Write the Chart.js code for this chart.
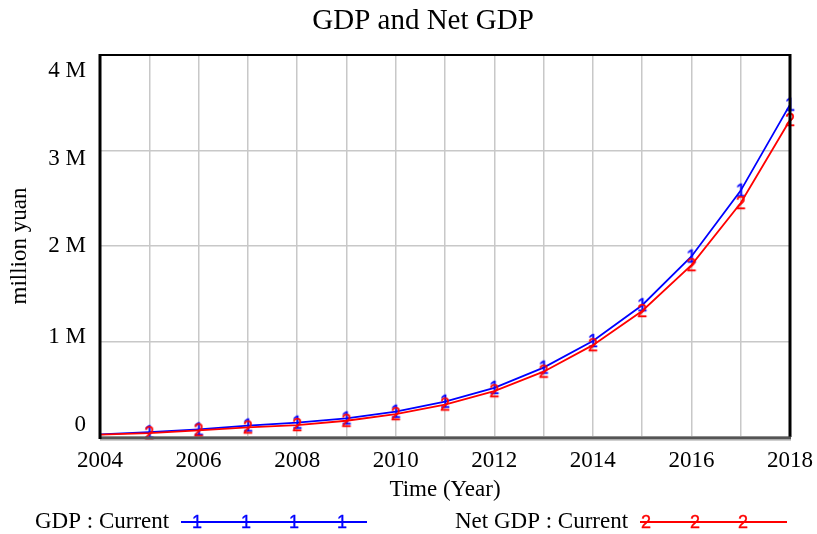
<!DOCTYPE html>
<html>
<head>
<meta charset="utf-8">
<script src="https://cdn.jsdelivr.net/npm/chart.js@4/dist/chart.umd.min.js"></script>
<style>
  html, body { margin: 0; padding: 0; background: #fff; }
  #wrap { width: 817px; height: 534px; position: relative; }
</style>
</head>
<body>
<div id="wrap"><canvas id="c" width="817" height="534"></canvas></div>
<script>
// ---- data ----
const years = [2004, 2005, 2006, 2007, 2008, 2009, 2010, 2011, 2012, 2013, 2014, 2015, 2016, 2017, 2018];
const gdpCurrent = [28000, 50000, 80000, 120000, 150000, 195000, 265000, 370000, 515000, 727000, 1005000, 1380000, 1890000, 2580000, 3480000];
const netGdpCurrent = [25000, 40000, 70000, 100000, 125000, 170000, 240000, 340000, 480000, 684000, 962000, 1320000, 1800000, 2450000, 3320000];
const yTickValues = [0, 1000000, 2000000, 3000000, 4000000];
const yTickLabels = ['0', '1 M', '2 M', '3 M', '4 M'];
const titleText = 'GDP and Net GDP';
const xTitle = 'Time (Year)';
const yTitle = 'million yuan';
const legendLabels = ['GDP : Current', 'Net GDP : Current'];
const seriesMarks = ['1', '2'];
const seriesColors = ['#0000ff', '#ff0000'];

const SERIF = '"Liberation Serif", "Times New Roman", serif';

function markerCanvas(ch, color) {
  const c = document.createElement('canvas');
  c.width = 16; c.height = 20;
  const g = c.getContext('2d');
  g.fillStyle = color;
  g.strokeStyle = color;
  g.lineWidth = 0.35;
  g.font = '18px "Liberation Sans", Arial, sans-serif';
  g.textAlign = 'center';
  g.textBaseline = 'middle';
  g.fillText(ch, 8, 11);
  g.strokeText(ch, 8, 11);
  return c;
}
const markers = seriesMarks.map((m, i) => markerCanvas(m, seriesColors[i]));

// vertical nudge of y tick labels (as in the reference): [direction, lineHeight]
const yLabelShift = { 0: ['down', 24], 1000000: ['down', 10], 2000000: ['none', 0], 3000000: ['up', 16], 4000000: ['up', 32] };

const framePlugin = {
  id: 'frame',
  afterDraw(chart) {
    const ctx = chart.ctx;
    const a = chart.chartArea;
    ctx.save();
    ctx.strokeStyle = '#000';
    ctx.lineWidth = 2;
    ctx.beginPath(); ctx.moveTo(a.left, a.top); ctx.lineTo(a.right, a.top); ctx.stroke();
    ctx.lineWidth = 3;
    ctx.beginPath(); ctx.moveTo(a.right, a.top - 1); ctx.lineTo(a.right, a.bottom); ctx.stroke();
    ctx.strokeStyle = '#555';
    ctx.lineWidth = 3;
    ctx.beginPath(); ctx.moveTo(a.left, a.bottom + 1); ctx.lineTo(a.right + 1, a.bottom + 1); ctx.stroke();
    ctx.strokeStyle = '#cfcfcf';
    ctx.lineWidth = 1;
    ctx.beginPath(); ctx.moveTo(a.left, a.bottom + 3.5); ctx.lineTo(a.right + 1, a.bottom + 3.5); ctx.stroke();
    ctx.strokeStyle = '#000';
    ctx.lineWidth = 3;
    ctx.beginPath(); ctx.moveTo(a.left, a.top - 1); ctx.lineTo(a.left, a.bottom + 2); ctx.stroke();

    ctx.fillStyle = '#000';
    ctx.font = '29px ' + SERIF;
    ctx.textAlign = 'center';
    ctx.textBaseline = 'middle';
    ctx.fillText(titleText, 423, 21);

    ctx.font = '23px ' + SERIF;
    ctx.textAlign = 'left';
    ctx.textBaseline = 'middle';
    const ly = 522;
    const items = [
      { x: 35, lineFrom: 181, lineTo: 367, marks: [197, 246, 294, 342] },
      { x: 455, lineFrom: 640, lineTo: 787, marks: [646, 695, 743] }
    ];
    items.forEach((it, i) => {
      ctx.fillStyle = '#000';
      ctx.fillText(legendLabels[i], it.x, ly);
      ctx.strokeStyle = seriesColors[i];
      ctx.lineWidth = 1.8;
      ctx.beginPath(); ctx.moveTo(it.lineFrom, ly); ctx.lineTo(it.lineTo, ly); ctx.stroke();
      it.marks.forEach(mx => {
        ctx.drawImage(markers[i], mx - 8, ly - 10);
      });
    });
    ctx.restore();
  }
};

const ds = (label, data, i) => ({
  label,
  data: years.map((y, k) => ({ x: y, y: data[k] })),
  borderColor: seriesColors[i],
  backgroundColor: seriesColors[i],
  borderWidth: 1.8,
  pointStyle: markers[i],
  pointRadius: ctx => (ctx.dataIndex === 0 ? 0 : 5),
  pointHoverRadius: 5,
  tension: 0,
  clip: false
});

new Chart(document.getElementById('c'), {
  type: 'line',
  data: {
    datasets: [
      ds(legendLabels[1], netGdpCurrent, 1),
      ds(legendLabels[0], gdpCurrent, 0)
    ]
  },
  options: {
    responsive: false,
    animation: false,
    events: [],
    layout: { padding: { top: 55, right: 27, bottom: 30, left: 0 } },
    plugins: {
      legend: { display: false },
      title: { display: false },
      tooltip: { enabled: false }
    },
    scales: {
      x: {
        type: 'linear',
        min: 2004,
        max: 2018,
        afterBuildTicks: s => { s.ticks = years.map(v => ({ value: v })); },
        afterFit: s => { s.height = 67; s.paddingLeft = 0; s.paddingRight = 0; },
        grid: { color: '#c8c8c8', lineWidth: 1.5, drawTicks: false },
        border: { display: false },
        ticks: {
          autoSkip: false,
          maxRotation: 0,
          padding: 10,
          color: '#000',
          font: { family: SERIF, size: 23 },
          callback: v => (v % 2 === 0 ? String(v) : '')
        },
        title: {
          display: true,
          text: xTitle,
          color: '#000',
          font: { family: SERIF, size: 23 },
          padding: { top: 0, bottom: 0 }
        }
      },
      y: {
        min: 0,
        max: 4000000,
        afterBuildTicks: s => { s.ticks = yTickValues.map(v => ({ value: v })); },
        afterFit: s => { s.width = 100; s.paddingTop = 0; s.paddingBottom = 0; },
        grid: { color: '#c8c8c8', lineWidth: 1.5, drawTicks: false },
        border: { display: false },
        ticks: {
          padding: 14,
          color: '#000',
          font: ctx => {
            const sh = ctx.tick ? yLabelShift[ctx.tick.value] : null;
            return { family: SERIF, size: 23, lineHeight: sh && sh[1] ? sh[1] + 'px' : 1.2 };
          },
          callback: v => {
            const lab = yTickLabels[yTickValues.indexOf(v)];
            const sh = yLabelShift[v];
            if (sh && sh[0] === 'up') return ['', lab];
            if (sh && sh[0] === 'down') return [lab, ''];
            return lab;
          }
        },
        title: {
          display: true,
          text: yTitle,
          color: '#000',
          font: { family: SERIF, size: 23 },
          padding: { top: 6, bottom: 6 }
        }
      }
    }
  },
  plugins: [framePlugin]
});
</script>
</body>
</html>
